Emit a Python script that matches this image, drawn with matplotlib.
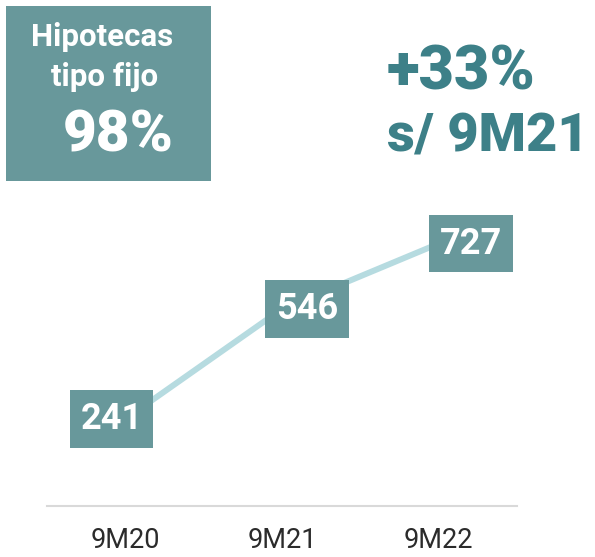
import matplotlib
matplotlib.use("Agg")
import matplotlib.pyplot as plt
from matplotlib.patches import Rectangle

plt.rcParams["font.family"] = ["Roboto", "DejaVu Sans"]

# data
periods = ["9M20", "9M21", "9M22"]
values = [241, 546, 727]
label_shift = [-10, 18, 23]   # horizontal offset of value boxes, points

box_col = "#68989b"
line_col = "#b6dbe0"
title_col = "#3d8088"

fig = plt.figure(figsize=(5.95, 5.57), dpi=100)
ax = fig.add_axes([47 / 595, 51 / 557, 470 / 595, 397 / 557])

x = list(range(len(periods)))
ax.plot(x, values, color=line_col, lw=4.3, solid_capstyle="round", zorder=1)

for xi, v, dx in zip(x, values, label_shift):
    ax.annotate(str(v), xy=(xi, v), xytext=(dx, 0), textcoords="offset points",
                ha="center", va="center", color="white", fontsize=26,
                fontweight="bold", zorder=3,
                bbox=dict(boxstyle="square,pad=0.3", fc=box_col, ec="none"))

ax.set_xlim(-0.5, 2.5)
ax.set_ylim(0, 1100)
ax.set_xticks(x)
ax.set_xticklabels(periods, fontsize=19.5, color="#2b2b2b")
ax.tick_params(axis="x", length=0, pad=15)
ax.set_yticks([])
for s in ["top", "left", "right"]:
    ax.spines[s].set_visible(False)
ax.spines["bottom"].set_color("#d9d9d9")
ax.spines["bottom"].set_linewidth(1.5)

# left box with fixed-rate share
fig.add_artist(Rectangle((6 / 595, 1 - 181 / 557), 205 / 595, 175 / 557,
                         transform=fig.transFigure, fc=box_col, ec="none"))
fig.text(102 / 595, 1 - 37 / 557, "Hipotecas", color="white", fontsize=22.5,
         fontweight="bold", ha="center", va="center")
fig.text(105 / 595, 1 - 77 / 557, "tipo fijo", color="white", fontsize=22.5,
         fontweight="bold", ha="center", va="center")
fig.text(118 / 595, 1 - 136 / 557, "98%", color="white", fontsize=42,
         fontweight="heavy", ha="center", va="center")

# growth note
fig.text(387 / 595, 1 - 73 / 557, "+33%", color=title_col, fontsize=44,
         fontweight="heavy", ha="left", va="center")
fig.text(387 / 595, 1 - 137 / 557, "s/ 9M21", color=title_col, fontsize=39,
         fontweight="heavy", ha="left", va="center")

fig.savefig("out.png", dpi=100)
